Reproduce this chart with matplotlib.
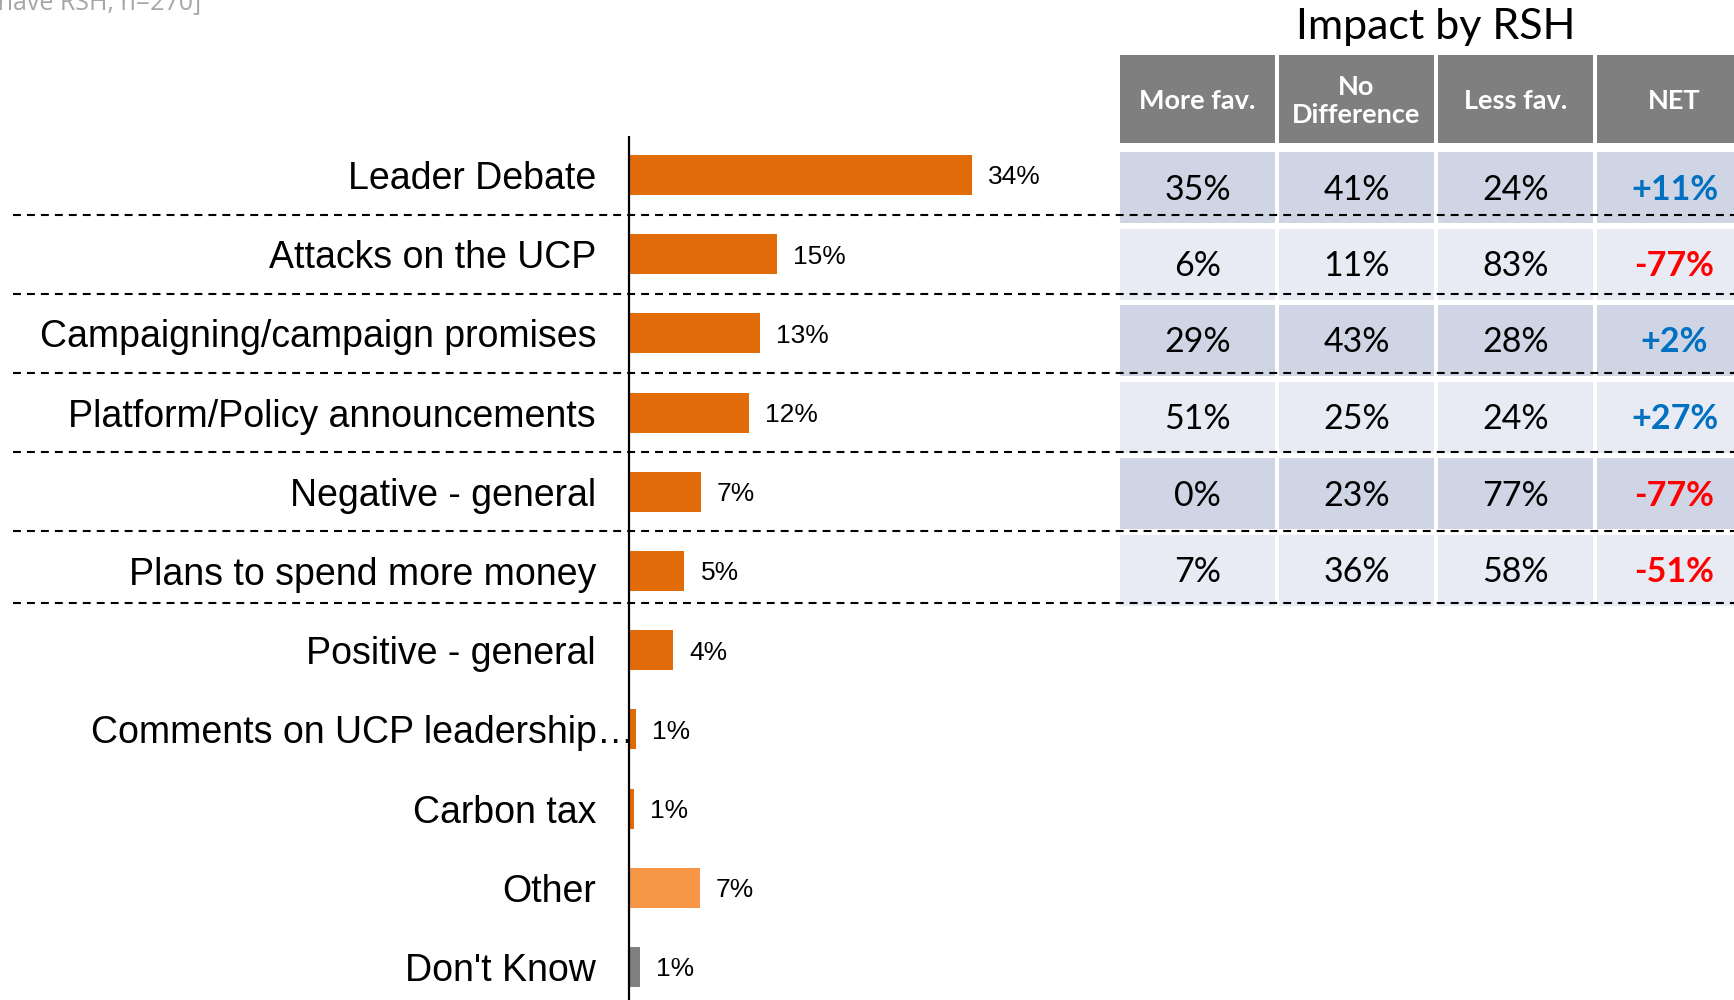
import matplotlib
matplotlib.use("Agg")
import matplotlib.pyplot as plt
from matplotlib.patches import Rectangle

# ---------------- data ----------------
categories = ["Leader Debate", "Attacks on the UCP", "Campaigning/campaign promises",
              "Platform/Policy announcements", "Negative - general", "Plans to spend more money",
              "Positive - general", "Comments on UCP leadership\u2026", "Carbon tax", "Other",
              "Don't Know"]
values = [34, 14.7, 13, 11.9, 7.1, 5.5, 4.4, 0.7, 0.5, 7.0, 1.05]
value_labels = ["34%", "15%", "13%", "12%", "7%", "5%", "4%", "1%", "1%", "7%", "1%"]
bar_colors = ["#E36C0A"] * 9 + ["#F79646", "#808080"]

table_title = "Impact by RSH"
table_headers = ["More fav.", "No\nDifference", "Less fav.", "NET"]
more_fav = ["35%", "6%", "29%", "51%", "0%", "7%"]
no_diff = ["41%", "11%", "43%", "25%", "23%", "36%"]
less_fav = ["24%", "83%", "28%", "24%", "77%", "58%"]
net = ["+11%", "-77%", "+2%", "+27%", "-77%", "-51%"]

base_note = "[Base: Those who have RSH, n=270]"

# ---------------- layout helpers (pixels of the 1734x1000 canvas) ----------------
W, H = 1734, 1000
X0 = 629.0          # bar baseline pixel
PX_PER_PCT = 10.09
Y0 = 175.0          # first bar center pixel
PITCH = 79.2

def px2x(px):
    return (px - X0) / PX_PER_PCT

def px2y(py):
    return (py - Y0) / PITCH

fig = plt.figure(figsize=(W / 100, H / 100), dpi=100)

# ---------------- table axes (pixel coordinates) ----------------
T_LEFT = 1118
COLW = 159
axt = fig.add_axes([T_LEFT / W, 0, 4 * COLW / W, 1])
axt.set_xlim(0, 4 * COLW)
axt.set_ylim(H, 0)
axt.axis("off")
axt.set_zorder(1)

TF = "Lato"
# title
axt.text(2 * COLW, 27, table_title, ha="center", va="center", fontsize=31,
         family=TF, color="black")
# header
HEAD_TOP, HEAD_BOT = 55, 143
for c, h in enumerate(table_headers):
    axt.add_patch(Rectangle((c * COLW + 2, HEAD_TOP), COLW - 4, HEAD_BOT - HEAD_TOP,
                            facecolor="#7F7F7F", edgecolor="none"))
    axt.text(c * COLW + COLW / 2, (HEAD_TOP + HEAD_BOT) / 2 + 2, h, ha="center", va="center",
             fontsize=19.5, family=TF, fontweight="bold", color="white", linespacing=1.2)

ROW_TOP0 = 152
ROW_PITCH = 76.5
ROW_H = 71
cols = [more_fav, no_diff, less_fav, net]
for r in range(len(more_fav)):
    top = ROW_TOP0 + r * ROW_PITCH
    fill = "#CFD5E4" if r % 2 == 0 else "#E8EBF3"
    for c, col in enumerate(cols):
        axt.add_patch(Rectangle((c * COLW + 2, top), COLW - 4, ROW_H,
                                facecolor=fill, edgecolor="none"))
        txt = col[r]
        if c == 3:
            color = "#0070C0" if txt.startswith("+") else "#FF0000"
            weight = "bold"
        else:
            color = "black"
            weight = "normal"
        axt.text(c * COLW + COLW / 2, top + ROW_H / 2 + 2, txt, ha="center", va="center",
                 fontsize=24.5, family=TF, color=color, fontweight=weight)

# ---------------- bar axes ----------------
ax = fig.add_axes([0, 0, 1, 1])
ax.set_zorder(3)
ax.patch.set_alpha(0)
ax.set_xlim(px2x(0), px2x(W))
ax.set_ylim(px2y(H), px2y(0))
ax.axis("off")

ypos = list(range(len(categories)))
ax.barh(ypos, values, height=0.505, color=bar_colors, zorder=2)

# axis line
ax.plot([0, 0], [px2y(136), px2y(H)], color="black", lw=1.6, zorder=3, solid_capstyle="butt")

LF = "Liberation Sans"
for i, (cat, v, lab) in enumerate(zip(categories, values, value_labels)):
    xr = px2x(596) if not cat.endswith("\u2026") else px2x(634)
    ax.text(xr, i, cat, ha="right", va="center_baseline", fontsize=27, family=LF, color="black")
    ax.text(v + 16 / PX_PER_PCT, i, lab, ha="left", va="center_baseline", fontsize=19,
            family=LF, color="black")

# dashed separators between the rows covered by the table
n_rows = len(more_fav)
for k in range(n_rows):
    ysep = k + 0.5 if k < n_rows - 1 else px2y(ROW_TOP0 + k * ROW_PITCH + ROW_H - 2)
    ln, = ax.plot([px2x(13), px2x(W)], [ysep, ysep], color="black", lw=1.5, zorder=4)
    ln.set_dashes((3.8, 2.9))

# cropped base note at top-left
fig.text(201 / W, 1 - 9 / H, base_note, ha="right", va="baseline", fontsize=18,
         family="Open Sans", color="#A6A6A6")

fig.savefig("out.png", dpi=100)
